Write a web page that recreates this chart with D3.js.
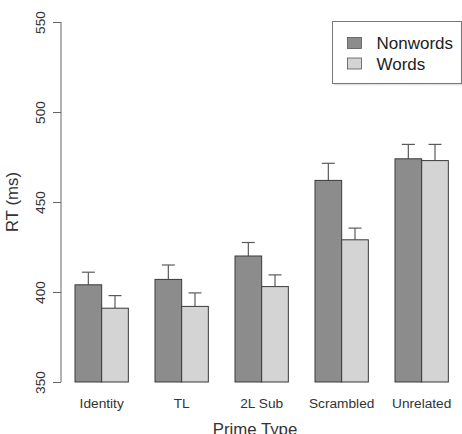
<!DOCTYPE html>
<html><head><meta charset="utf-8">
<script src="https://cdn.jsdelivr.net/npm/d3@7"></script>
<style>body{margin:0;background:#fff}svg{display:block}text{font-family:"Liberation Sans",Arial,sans-serif}</style>
</head><body>
<script>
const categories = ["Identity", "TL", "2L Sub", "Scrambled", "Unrelated"];
const seriesNames = ["Nonwords", "Words"];
const nonwords = [404, 407, 420, 462, 474];
const words = [391, 392, 403, 429, 473];
const nonwordsErr = [7, 8, 7.5, 9.5, 8];
const wordsErr = [7, 7.5, 6.5, 6.5, 9];
const yTicks = [350, 400, 450, 500, 550];
const colors = ["#8c8c8c", "#d4d4d4"];

const W = 462, H = 434;
const svg = d3.select("body").append("svg").attr("width", W).attr("height", H);

const y = d3.scaleLinear().domain([350, 550]).range([382, 22]);
const x0 = d3.scaleBand().domain(categories).range([61.67, 461.67]).paddingInner(1/3).paddingOuter(1/6);
const x1 = d3.scaleBand().domain(seriesNames).range([0, x0.bandwidth()]);

const data = categories.map((c, i) => ({
  cat: c,
  vals: [
    {s: "Nonwords", v: nonwords[i], e: nonwordsErr[i]},
    {s: "Words", v: words[i], e: wordsErr[i]}
  ]
}));

// error bars (drawn beneath bars)
const g = svg.selectAll("g.grp").data(data).join("g").attr("class", "grp")
  .attr("transform", d => `translate(${x0(d.cat)},0)`);

g.selectAll("g.err").data(d => d.vals).join("g").attr("class", "err").each(function(d) {
  const cx = x1(d.s) + x1.bandwidth() / 2;
  const sel = d3.select(this);
  sel.append("line").attr("x1", cx).attr("x2", cx).attr("y1", y(d.v)).attr("y2", y(d.v + d.e))
    .attr("stroke", "#5a5a5a").attr("stroke-width", 1.2);
  sel.append("line").attr("x1", cx - 6.5).attr("x2", cx + 6.5).attr("y1", y(d.v + d.e)).attr("y2", y(d.v + d.e))
    .attr("stroke", "#5a5a5a").attr("stroke-width", 1.2);
});

g.selectAll("rect").data(d => d.vals).join("rect")
  .attr("x", d => x1(d.s))
  .attr("width", x1.bandwidth())
  .attr("y", d => y(d.v))
  .attr("height", d => y(350) - y(d.v))
  .attr("fill", (d, i) => colors[i])
  .attr("stroke", "#3a3a3a").attr("stroke-width", 1);

// Y axis
const yAxis = svg.append("g").attr("transform", "translate(61,0)")
  .call(d3.axisLeft(y).tickValues(yTicks).tickSize(8).tickPadding(0).tickFormat(d3.format("d")));
yAxis.select(".domain").attr("stroke", "#666").attr("d", `M-8,${y(350)}H0V${y(550)}H-8`).attr("d", `M0,${y(350)}V${y(550)}`);
yAxis.selectAll(".tick line").attr("stroke", "#666");
yAxis.selectAll(".tick text")
  .attr("transform", "rotate(-90)")
  .attr("x", 0).attr("y", -16).attr("dy", 0)
  .attr("text-anchor", "middle")
  .attr("font-size", 13.7).attr("fill", "#333");

// X labels
const xAxis = svg.append("g").attr("transform", `translate(0,${y(350)})`)
  .call(d3.axisBottom(x0).tickSize(0).tickPadding(0));
xAxis.select(".domain").remove();
xAxis.selectAll(".tick text").attr("y", 26).attr("dy", 0).attr("font-size", 13.7).attr("fill", "#333");

// Axis titles
svg.append("text").attr("transform", `translate(18,202) rotate(-90)`)
  .attr("text-anchor", "middle").attr("font-size", 16.8).attr("fill", "#333").text("RT (ms)");
svg.append("text").attr("x", 255).attr("y", 435)
  .attr("text-anchor", "middle").attr("font-size", 16.8).attr("fill", "#333").text("Prime Type");

// Legend
const lg = svg.append("g");
lg.append("rect").attr("x", 334).attr("y", 23).attr("width", 129).attr("height", 62.5)
  .attr("fill", "#ddd").attr("opacity", 0.8);
lg.append("rect").attr("x", 332.5).attr("y", 21.5).attr("width", 129).attr("height", 62)
  .attr("fill", "#fff").attr("stroke", "#777").attr("stroke-width", 1);
seriesNames.forEach((s, i) => {
  const yy = 43 + i * 20.5;
  lg.append("rect").attr("x", 347.5).attr("y", yy - 5.5).attr("width", 14).attr("height", 11)
    .attr("fill", colors[i]).attr("stroke", "#555").attr("stroke-width", 0.8);
  lg.append("text").attr("x", 376.5).attr("y", yy + 6).attr("font-size", 17).attr("fill", "#222").text(s);
});
</script>
</body></html>
